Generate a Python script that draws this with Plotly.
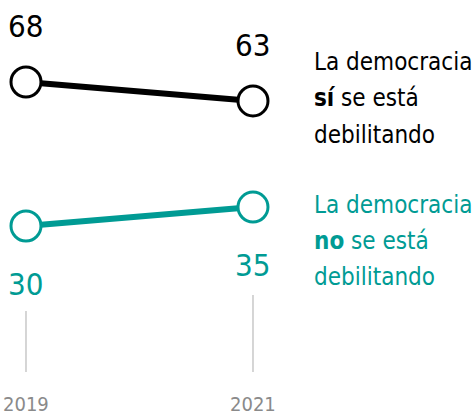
import plotly.graph_objects as go

years = [2019, 2021]
weakening = [68, 63]
not_weakening = [30, 35]
year_labels = ["2019", "2021"]
caption_weakening = ["La democracia", "<b>sí</b> se está", "debilitando"]
caption_not_weakening = ["La democracia", "<b>no</b> se está", "debilitando"]

BLACK = "#000000"
TEAL = "#009b94"
GREY_TEXT = "#8a8a8a"
FONT = "DejaVu Sans Condensed, Roboto Condensed, Roboto"

W, H = 475, 416
X_RANGE = [2018.771, 2022.956]
Y_RANGE = [-20.13, 89.63]


def py(pixel):
    return 1 - pixel / H


fig = go.Figure()
for vals, color in [(weakening, BLACK), (not_weakening, TEAL)]:
    fig.add_trace(go.Scatter(
        x=years, y=vals, mode="lines+markers",
        line=dict(color=color, width=6),
        marker=dict(size=30, color="white", line=dict(color=color, width=3)),
        hoverinfo="skip", showlegend=False, cliponaxis=False,
    ))

for x, v in zip(years, weakening):
    fig.add_annotation(x=x, y=v, text=str(v), showarrow=False,
                       xanchor="center", yanchor="middle", yshift=56,
                       font=dict(family=FONT, size=31, color=BLACK, weight=300))
for x, v in zip(years, not_weakening):
    fig.add_annotation(x=x, y=v, text=str(v), showarrow=False,
                       xanchor="center", yanchor="middle", yshift=-58,
                       font=dict(family=FONT, size=31, color=TEAL, weight=300))

for x, top in zip(years, [311, 295]):
    fig.add_shape(type="line", xref="x", yref="paper",
                  x0=x, x1=x, y0=py(372), y1=py(top),
                  line=dict(color="#c8c8c8", width=1.5))

for x, lab in zip(years, year_labels):
    fig.add_annotation(x=x, xref="x", y=py(404), yref="paper", text=lab,
                       showarrow=False, xanchor="center", yanchor="middle",
                       font=dict(family=FONT, size=20, color=GREY_TEXT, weight=300))

# series captions, one annotation per line to keep the wide leading
for lines, rows, color in [(caption_weakening, [62, 98, 135], BLACK),
                           (caption_not_weakening, [205, 241, 277], TEAL)]:
    for line, row in zip(lines, rows):
        fig.add_annotation(x=312 / W, xref="paper", y=py(row), yref="paper",
                           text=line, showarrow=False,
                           xanchor="left", yanchor="middle", align="left",
                           font=dict(family=FONT, size=24, color=color, weight=300))

fig.update_layout(
    width=W, height=H,
    margin=dict(l=0, r=0, t=0, b=0),
    paper_bgcolor="white", plot_bgcolor="white",
    xaxis=dict(range=X_RANGE, visible=False, fixedrange=True),
    yaxis=dict(range=Y_RANGE, visible=False, fixedrange=True),
)

fig.write_html("out.html")
